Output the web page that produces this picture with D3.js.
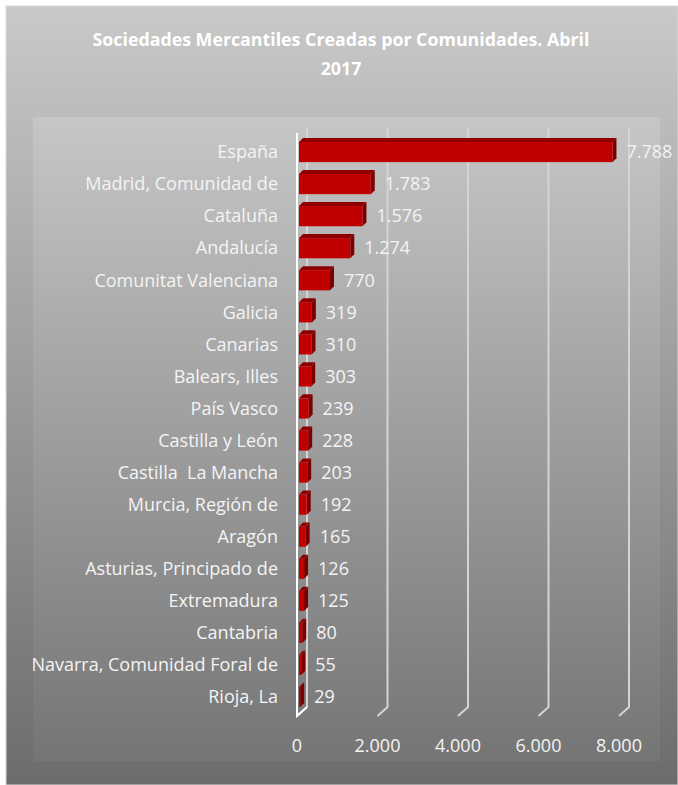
<!DOCTYPE html>
<html>
<head>
<meta charset="utf-8">
<script src="https://cdn.jsdelivr.net/npm/d3@7"></script>
<style>
  body { margin: 0; background: #fff; }
  text { font-family: "Open Sans", sans-serif; white-space: pre; }
</style>
</head>
<body>
<div id="chart"></div>
<script>
const regions = [
  "España", "Madrid, Comunidad de", "Cataluña", "Andalucía", "Comunitat Valenciana",
  "Galicia", "Canarias", "Balears, Illes", "País Vasco", "Castilla y León",
  "Castilla  La Mancha", "Murcia, Región de", "Aragón", "Asturias, Principado de",
  "Extremadura", "Cantabria", "Navarra, Comunidad Foral de", "Rioja, La"
];
const values = [7788, 1783, 1576, 1274, 770, 319, 310, 303, 239, 228, 203, 192, 165, 126, 125, 80, 55, 29];
const ticks = [0, 2000, 4000, 6000, 8000];
const titleLines = ["Sociedades Mercantiles Creadas por Comunidades. Abril", "2017"];

const width = 678, height = 785;
const es = d3.formatLocale({ decimal: ",", thousands: ".", grouping: [3], currency: ["", "€"] });
const fmt = es.format(",d");

const svg = d3.select("#chart").append("svg")
  .attr("width", width)
  .attr("height", height);

const defs = svg.append("defs");
const g1 = defs.append("linearGradient").attr("id", "outerBg").attr("x1", 0).attr("y1", 0).attr("x2", 0).attr("y2", 1);
g1.append("stop").attr("offset", "0%").attr("stop-color", "#c9c9c9");
g1.append("stop").attr("offset", "100%").attr("stop-color", "#6c6c6c");
const g2 = defs.append("linearGradient").attr("id", "innerBg").attr("x1", 0).attr("y1", 0).attr("x2", 0).attr("y2", 1);
g2.append("stop").attr("offset", "0%").attr("stop-color", "#c6c6c6");
g2.append("stop").attr("offset", "100%").attr("stop-color", "#757575");

// outer chart area
svg.append("rect")
  .attr("x", 6).attr("y", 6)
  .attr("width", width - 6).attr("height", height - 6)
  .attr("fill", "url(#outerBg)")
  .attr("stroke", "#d9d9d9")
  .attr("stroke-width", 1);

// plot area
svg.append("rect")
  .attr("x", 33).attr("y", 117)
  .attr("width", 627).attr("height", 644)
  .attr("fill", "url(#innerBg)");

// title
svg.append("text")
  .attr("x", 341).attr("y", 46)
  .attr("text-anchor", "middle")
  .attr("fill", "#ffffff")
  .attr("font-weight", "bold")
  .attr("font-size", 17.8)
  .selectAll("tspan")
  .data(titleLines)
  .enter()
  .append("tspan")
  .attr("x", 341)
  .attr("dy", (d, i) => i === 0 ? 0 : 29)
  .text(d => d);

const x = d3.scaleLinear().domain([0, 8000]).range([297, 619]);
const y = d3.scaleBand().domain(regions).range([136, 713]).paddingInner(0.37).paddingOuter(0.185);

const depthX = 10, depthY = 9;
const wallTop = 128, floorBack = 707;

// gridlines (back wall) with floor diagonal
ticks.forEach((t) => {
  const xb = x(t) + depthX;
  svg.append("path")
    .attr("d", `M${xb},${wallTop}V${floorBack}L${x(t)},${floorBack + depthY}`)
    .attr("fill", "none")
    .attr("stroke", "#d4d4d4")
    .attr("stroke-width", 2);
});

// side wall at 0
svg.append("path")
  .attr("d", `M${x(0)},${wallTop + 5}V${floorBack + depthY}L${x(0) + depthX},${floorBack}`)
  .attr("fill", "none")
  .attr("stroke", "#ffffff")
  .attr("stroke-width", 2);

// bars (3D look)
const d3bar = 4;
const bars = svg.append("g");
regions.forEach((r, i) => {
  const v = values[i];
  const x0 = x(0) + 2, x1 = x(v) + 2;
  const yt = y(r), h = y.bandwidth();
  bars.append("path")
    .attr("d", `M${x0},${yt}L${x0 + d3bar},${yt - d3bar}L${x1 + d3bar},${yt - d3bar}L${x1},${yt}Z`)
    .attr("fill", "#8e0000");
  bars.append("path")
    .attr("d", `M${x1},${yt}L${x1 + d3bar},${yt - d3bar}L${x1 + d3bar},${yt + h - d3bar}L${x1},${yt + h}Z`)
    .attr("fill", "#7a0000");
  bars.append("rect")
    .attr("x", x0).attr("y", yt)
    .attr("width", Math.max(0, x1 - x0)).attr("height", h)
    .attr("fill", "#c00000");
});

// category labels
svg.append("g")
  .selectAll("text")
  .data(regions)
  .enter()
  .append("text")
  .attr("x", 278)
  .attr("y", d => y(d) + y.bandwidth() / 2)
  .attr("dy", "0.35em")
  .attr("text-anchor", "end")
  .attr("fill", "#f4f4f4")
  .attr("font-size", 18)
  .text(d => d);

// value labels
svg.append("g")
  .selectAll("text")
  .data(values)
  .enter()
  .append("text")
  .attr("x", d => x(d) + 16)
  .attr("y", (d, i) => y(regions[i]) + y.bandwidth() / 2)
  .attr("dy", "0.35em")
  .attr("fill", "#f4f4f4")
  .attr("font-size", 18)
  .text(d => fmt(d));

// x axis tick labels
svg.append("g")
  .selectAll("text")
  .data(ticks)
  .enter()
  .append("text")
  .attr("x", d => x(d))
  .attr("y", 746)
  .attr("dy", "0.35em")
  .attr("text-anchor", "middle")
  .attr("fill", "#f4f4f4")
  .attr("font-size", 18)
  .text(d => fmt(d));
</script>
</body>
</html>
